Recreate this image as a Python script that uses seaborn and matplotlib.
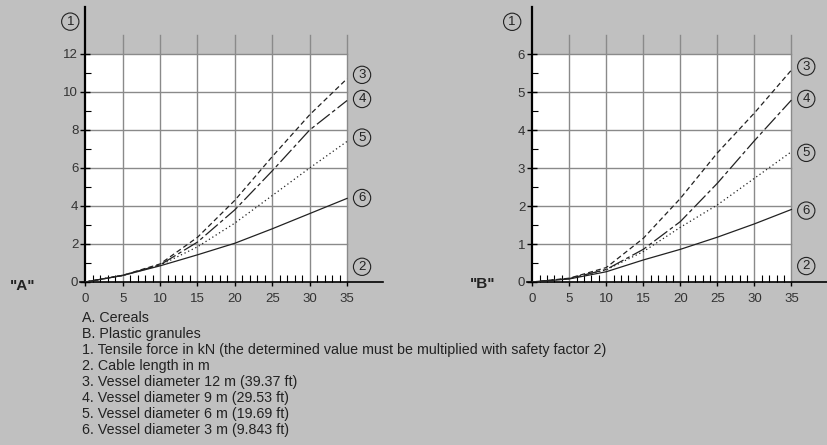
import matplotlib
matplotlib.use("Agg")
import matplotlib.pyplot as plt
from matplotlib.patches import Rectangle
import seaborn as sns
import pandas as pd

# Data
cable_length = [0, 5, 10, 15, 20, 25, 30, 35]

# "A" cereals, tensile force in kN
a_d12 = [0, 0.35, 0.95, 2.35, 4.3, 6.6, 8.8, 10.7]
a_d9 = [0, 0.35, 0.9, 2.1, 3.8, 5.85, 8.0, 9.55]
a_d6 = [0, 0.35, 0.88, 1.85, 3.1, 4.55, 6.0, 7.4]
a_d3 = [0, 0.34, 0.85, 1.43, 2.04, 2.8, 3.6, 4.4]

# "B" plastic granules, tensile force in kN
b_d12 = [0, 0.1, 0.38, 1.15, 2.2, 3.4, 4.45, 5.58]
b_d9 = [0, 0.09, 0.33, 0.86, 1.59, 2.6, 3.72, 4.79]
b_d6 = [0, 0.09, 0.32, 0.8, 1.44, 2.03, 2.73, 3.43]
b_d3 = [0, 0.08, 0.27, 0.58, 0.86, 1.18, 1.53, 1.91]

curve_ids = ["3", "4", "5", "6"]
panel_names = ['"A"', '"B"']
y_ticks_a = [0, 2, 4, 6, 8, 10, 12]
y_ticks_b = [0, 1, 2, 3, 4, 5, 6]
x_ticks = [0, 5, 10, 15, 20, 25, 30, 35]

legend_lines = [
    "A. Cereals",
    "B. Plastic granules",
    "1. Tensile force in kN (the determined value must be multiplied with safety factor 2)",
    "2. Cable length in m",
    "3. Vessel diameter 12 m (39.37 ft)",
    "4. Vessel diameter 9 m (29.53 ft)",
    "5. Vessel diameter 6 m (19.69 ft)",
    "6. Vessel diameter 3 m (9.843 ft)",
]

plt.rcParams['font.family'] = ['Liberation Sans', 'DejaVu Sans']
BG = '#c0c0c0'
INK = '#222222'
GRID = '#8a8a8a'

styles = [(0, (4, 2.5)), (0, (13, 2.5, 3, 2.5)), (0, (1, 2.2)), '-']

W, H = 827, 445
fig = plt.figure(figsize=(8.27, 4.45), dpi=100, facecolor=BG)


def setup(ax, curves, yticks, ymax_white, grid_top, ylim_top, circ_y, one_xy):
    ax.set_facecolor('none')
    ax.add_patch(Rectangle((0, 0), 35, ymax_white, facecolor='white', edgecolor='none', zorder=0))
    step = yticks[1] - yticks[0]
    for gx in x_ticks[1:]:
        ax.plot([gx, gx], [0, grid_top], color=GRID, lw=1, zorder=1, clip_on=False)
    for gy in yticks[1:]:
        ax.plot([0, 35], [gy, gy], color=GRID, lw=1, zorder=1)

    for vals, ls in zip(curves, styles):
        df = pd.DataFrame({'x': cable_length, 'y': vals})
        sns.lineplot(data=df, x='x', y='y', ax=ax, color=INK, lw=0.9,
                     linestyle=ls, zorder=3)

    ax.set_xlim(-0.7, 39.8)
    ax.set_ylim(0, ylim_top)
    for s in ['top', 'right']:
        ax.spines[s].set_visible(False)
    ax.spines['left'].set_position(('data', 0))
    ax.spines['left'].set_linewidth(1.6)
    ax.spines['bottom'].set_linewidth(1.2)
    ax.spines['left'].set_bounds(0, ylim_top)

    ax.set_xticks(x_ticks)
    ax.set_xticks(range(1, 35), minor=True)
    ax.set_yticks(yticks)
    ax.set_yticks([t + step / 2 for t in yticks[:-1]], minor=True)
    ax.tick_params(axis='x', which='major', direction='out', length=3, width=1,
                   labelsize=9.5, labelcolor='#333333', pad=5)
    ax.tick_params(axis='x', which='minor', direction='in', length=5, width=0.8)
    ax.tick_params(axis='y', which='major', direction='inout', length=7, width=1,
                   labelsize=9.5, labelcolor='#333333', pad=1.5)
    ax.tick_params(axis='y', which='minor', direction='in', length=4, width=0.8)
    ax.set_xlabel('')
    ax.set_ylabel('')

    circ = dict(boxstyle='circle,pad=0.2', fc='none', ec=INK, lw=0.8)
    for cid, cy in zip(curve_ids + ["2"], circ_y):
        ax.text(37.0, cy, cid, fontsize=9.5, ha='center', va='center', color=INK,
                bbox=circ, clip_on=False)
    ax.text(one_xy[0], one_xy[1], "1", fontsize=9.5, ha='center', va='center',
            color=INK, bbox=circ, clip_on=False)
    return ax


ax1 = fig.add_axes([80 / W, (H - 282) / H, 303 / W, 275 / H])
setup(ax1, [a_d12, a_d9, a_d6, a_d3], y_ticks_a, 12, 13.0, 14.47,
      [10.9, 9.63, 7.6, 4.42, 0.8], (-2.0, 13.7))

ax2 = fig.add_axes([527 / W, (H - 282) / H, 300 / W, 275 / H])
setup(ax2, [b_d12, b_d9, b_d6, b_d3], y_ticks_b, 6, 6.5, 7.24,
      [5.67, 4.82, 3.40, 1.88, 0.42], (-2.7, 6.85))

fig.text(23 / W, 1 - 286 / H, panel_names[0], fontsize=11, fontweight='bold',
         ha='center', va='center', color=INK)
fig.text(483 / W, 1 - 284 / H, panel_names[1], fontsize=11, fontweight='bold',
         ha='center', va='center', color=INK)

for i, line in enumerate(legend_lines):
    fig.text(82 / W, 1 - (318 + 16 * i) / H, line, fontsize=10.3, ha='left',
             va='center', color=INK)

fig.savefig('out.png', dpi=100, facecolor=BG)
